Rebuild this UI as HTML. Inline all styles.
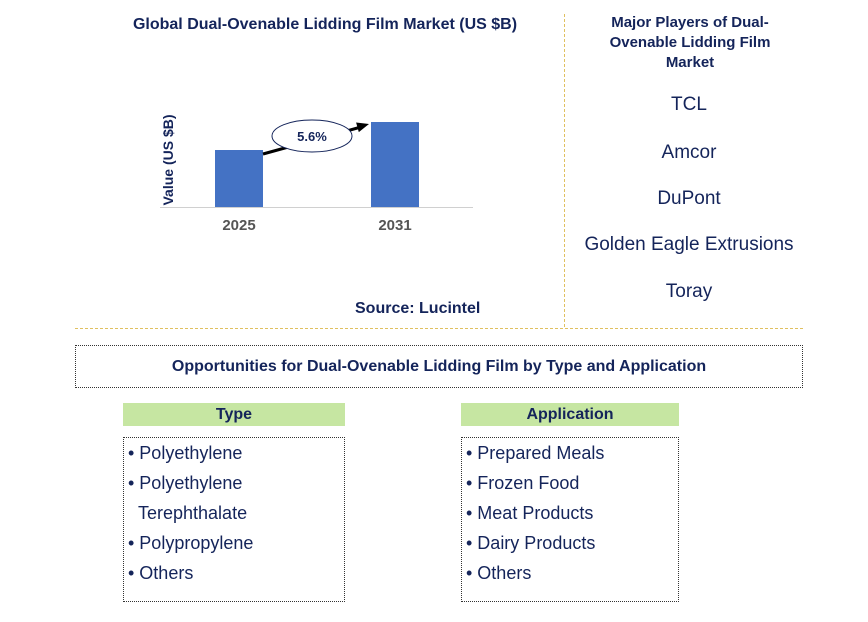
<!DOCTYPE html>
<html><head><meta charset="utf-8"><style>
body{margin:0;width:868px;height:622px;background:#fff;font-family:"Liberation Sans",sans-serif;position:relative;overflow:hidden}
.abs{position:absolute}
.navy{color:#14245a}
.player{position:absolute;left:565px;width:248px;text-align:center;font-size:19px;color:#14245a}
.hdr{position:absolute;height:23px;background:#c6e6a2;font-weight:bold;font-size:16px;text-align:center;line-height:23px;color:#14245a}
.box{position:absolute;border:1px dotted #333;font-size:18px;color:#14245a;line-height:30px;padding-top:0px;box-sizing:border-box}
</style></head><body>
<div class="abs navy" style="left:100px;top:16px;width:450px;text-align:center;font-weight:bold;font-size:16px">Global Dual-Ovenable Lidding Film Market (US $B)</div>
<svg class="abs" style="left:0;top:0" width="560" height="320">
<text id="ytitle" transform="translate(173,160) rotate(-90)" text-anchor="middle" font-weight="bold" font-size="14" fill="#14245a" font-family="Liberation Sans">Value (US $B)</text>
<line x1="160" y1="207.5" x2="473" y2="207.5" stroke="#d0d0d0" stroke-width="1"/>
<g id="bars"></g>
</svg>
<div class="abs" style="left:355px;top:300px;font-weight:bold;font-size:16px;color:#14245a">Source: Lucintel</div>
<div class="abs" style="left:564px;top:14px;height:313px;border-left:1px dashed #e0c060"></div>
<div class="abs" style="left:75px;top:328px;width:728px;border-top:1px dashed #e0c060"></div>
<div class="abs navy" style="left:595px;top:13px;width:190px;text-align:center;font-weight:bold;font-size:15px;line-height:20px">Major Players of Dual-Ovenable Lidding Film Market</div>
<div class="player" style="top:94px">TCL</div>
<div class="player" style="top:142px">Amcor</div>
<div class="player" style="top:188px">DuPont</div>
<div class="player" style="top:234px">Golden Eagle Extrusions</div>
<div class="player" style="top:281px">Toray</div>
<div class="abs navy" style="left:75px;top:345px;width:728px;height:43px;border:1px dotted #333;box-sizing:border-box;text-align:center;line-height:41px;font-weight:bold;font-size:16px">Opportunities for Dual-Ovenable Lidding Film by Type and Application</div>
<div class="hdr" style="left:123px;top:403px;width:222px">Type</div>
<div class="hdr" style="left:461px;top:403px;width:218px">Application</div>
<div class="box" style="left:123px;top:437px;width:222px;height:165px;padding-left:4px">
• Polyethylene<br>• Polyethylene<br>&nbsp;&nbsp;Terephthalate<br>• Polypropylene<br>• Others</div>
<div class="box" style="left:461px;top:437px;width:218px;height:165px;padding-left:4px">
• Prepared Meals<br>• Frozen Food<br>• Meat Products<br>• Dairy Products<br>• Others</div>
<script>
const categories=["2025","2031"];
const values=[5.7,8.5];
const cagrLabel="5.6%";
const base=207,scale=10,x0=215,step=156,bw=48;
const yS=v=>base-v*scale, xS=i=>x0+i*step;
const ns="http://www.w3.org/2000/svg",g=document.getElementById("bars");
function mk(t,a){const e=document.createElementNS(ns,t);for(const k in a)e.setAttribute(k,a[k]);g.appendChild(e);return e;}
categories.forEach((c,i)=>{
 const r=mk("rect",{x:xS(i),y:yS(values[i]),width:bw,height:values[i]*scale,fill:"#4472c4"});
 
 
 const t=mk("text",{x:xS(i)+bw/2,y:230,"text-anchor":"middle","font-size":"15","font-weight":"bold",fill:"#555","font-family":"Liberation Sans"});
 t.textContent=c;
 
 
});
const ax1=xS(0)+bw,ay1=yS(values[0])+4,ax2=xS(1)-2,ay2=yS(values[1])+2;
const ln=mk("line",{x1:ax1,y1:ay1,x2:ax2-8,y2:ay2+3,stroke:"#000","stroke-width":"3"});


const dx=ax2-ax1,dy=ay2-ay1,L=Math.hypot(dx,dy),ux=dx/L,uy=dy/L;
const hd=mk("polygon",{points:`${ax2},${ay2} ${ax2-12*ux-5*uy},${ay2-12*uy+5*ux} ${ax2-12*ux+5*uy},${ay2-12*uy-5*ux}`,fill:"#000"});


const el=mk("ellipse",{cx:312,cy:136,rx:40,ry:16,fill:"#fff",stroke:"#14245a","stroke-width":"1"});


const ct=mk("text",{x:312,y:141,"text-anchor":"middle","font-size":"13","font-weight":"bold",fill:"#14245a","font-family":"Liberation Sans"});
ct.textContent=cagrLabel;


</script>
</body></html>
